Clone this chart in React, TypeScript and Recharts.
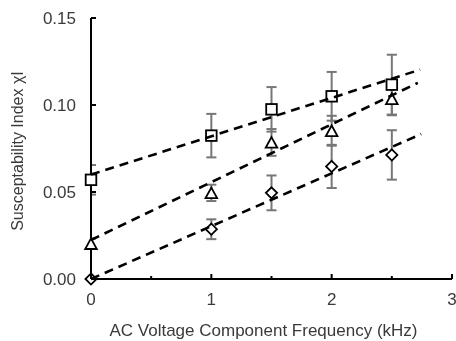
import React from 'react';
import { ComposedChart, Scatter, XAxis, YAxis, Label, ReferenceLine } from 'recharts';

const frequencies = [0, 1, 1.5, 2, 2.5];
const squareValues = [0.057, 0.0824, 0.0975, 0.105, 0.1117];
const squareErrors = [0.0085, 0.0125, 0.0128, 0.014, 0.0172];
const triangleValues = [0.0203, 0.0495, 0.0785, 0.0852, 0.1036];
const triangleErrors = [0.003, 0.0047, 0.0077, 0.0086, 0.0095];
const diamondValues = [0, 0.0286, 0.0495, 0.0647, 0.0713];
const diamondErrors = [0, 0.0057, 0.01, 0.0124, 0.0142];

const trendSquareX = [0, 2.735];
const trendSquareY = [0.06, 0.1203];
const trendTriangleX = [0, 2.716];
const trendTriangleY = [0.0224, 0.1127];
const trendDiamondX = [0, 2.744];
const trendDiamondY = [0, 0.0833];

const xTicks = [0, 0.5, 1, 1.5, 2, 2.5, 3];
const yTicks = [0, 0.05, 0.1, 0.15];
const xDomain = [0, 3];
const yDomain = [0, 0.15];

const xLabel = 'AC Voltage Component Frequency (kHz)';
const yLabel = 'Susceptability Index χI';

const FONT = '"Liberation Sans", Arial, sans-serif';
const TEXT_COLOR = '#3a3a3a';
const CAP_HALF_WIDTH = 0.042; // error-bar cap half width, in x-axis units

const build = (xs: number[], ys: number[], es?: number[]) =>
  xs.map((x, i) => ({ x, y: ys[i], err: es ? es[i] : 0 }));

const squareData = build(frequencies, squareValues, squareErrors);
const triangleData = build(frequencies, triangleValues, triangleErrors);
const diamondData = build(frequencies, diamondValues, diamondErrors);
const trendSquare = build(trendSquareX, trendSquareY);
const trendTriangle = build(trendTriangleX, trendTriangleY);
const trendDiamond = build(trendDiamondX, trendDiamondY);

type Seg = [{ x: number; y: number }, { x: number; y: number }];
const errorSegments: Seg[] = [squareData, triangleData, diamondData].flatMap((series) =>
  series
    .filter((d) => d.err > 0)
    .flatMap((d) => {
      const lo = d.y - d.err;
      const hi = d.y + d.err;
      return [
        [{ x: d.x, y: lo }, { x: d.x, y: hi }],
        [{ x: d.x - CAP_HALF_WIDTH, y: hi }, { x: d.x + CAP_HALF_WIDTH, y: hi }],
        [{ x: d.x - CAP_HALF_WIDTH, y: lo }, { x: d.x + CAP_HALF_WIDTH, y: lo }],
      ] as Seg[];
    })
);

const Y_MARGIN = 15;
const X_MARGIN = 20;

const YTick = (props: any) => {
  const { x, y, payload } = props;
  const axisX = x + Y_MARGIN;
  return (
    <g>
      <line x1={axisX} x2={axisX + 5} y1={y} y2={y} stroke="#000" strokeWidth={2} />
      <text x={x} y={y} dy="0.36em" textAnchor="end" fontFamily={FONT} fontSize={17} fill={TEXT_COLOR}>
        {payload.value.toFixed(2)}
      </text>
    </g>
  );
};

const XTick = (props: any) => {
  const { x, y, payload } = props;
  const axisY = y - X_MARGIN;
  const major = Math.abs(payload.value - Math.round(payload.value)) < 1e-6;
  return (
    <g>
      <line x1={x} x2={x} y1={axisY} y2={axisY - (major ? 5 : 3)} stroke="#000" strokeWidth={2} />
      {major && (
        <text x={x} y={y} dy="0.36em" textAnchor="middle" fontFamily={FONT} fontSize={17} fill={TEXT_COLOR}>
          {String(Math.round(payload.value))}
        </text>
      )}
    </g>
  );
};

const Square = (props: any) => {
  const { cx, cy } = props;
  if (cx == null || cy == null) return null;
  const h = 5.3;
  return <rect x={cx - h} y={cy - h} width={2 * h} height={2 * h} fill="#fff" stroke="#000" strokeWidth={1.8} />;
};

const Triangle = (props: any) => {
  const { cx, cy } = props;
  if (cx == null || cy == null) return null;
  const w = 5.8;
  const h = 5.3;
  return (
    <polygon
      points={`${cx},${cy - h} ${cx + w},${cy + h} ${cx - w},${cy + h}`}
      fill="#fff"
      stroke="#000"
      strokeWidth={1.8}
    />
  );
};

const Diamond = (props: any) => {
  const { cx, cy } = props;
  if (cx == null || cy == null) return null;
  const r = 5.6;
  return (
    <polygon
      points={`${cx},${cy - r} ${cx + r},${cy} ${cx},${cy + r} ${cx - r},${cy}`}
      fill="#fff"
      stroke="#000"
      strokeWidth={1.8}
    />
  );
};

const trendStyle = { stroke: '#000', strokeWidth: 2.6, strokeDasharray: '9 6' };

export default function App() {
  return (
    <div style={{ position: 'fixed', left: 8, top: 8, width: 448, height: 333 }}>
      <ComposedChart width={448} height={333} margin={{ top: 10, right: 4, bottom: 0, left: 0 }}>
        <XAxis
          type="number"
          dataKey="x"
          domain={xDomain}
          ticks={xTicks}
          interval={0}
          tickLine={false}
          tickSize={0}
          tickMargin={X_MARGIN}
          tick={<XTick />}
          axisLine={{ stroke: '#000', strokeWidth: 2 }}
          height={62}
        >
          <Label
            content={() => (
              <text x={255.5} y={322} dy="0.36em" textAnchor="middle" fontFamily={FONT} fontSize={17} fill={TEXT_COLOR}>
                {xLabel}
              </text>
            )}
          />
        </XAxis>
        <YAxis
          type="number"
          domain={yDomain}
          ticks={yTicks}
          interval={0}
          tickLine={false}
          tickSize={0}
          tickMargin={Y_MARGIN}
          tick={<YTick />}
          axisLine={false}
          width={83}
        >
          <Label
            content={() => (
              <text
                x={0}
                y={0}
                transform="translate(9,143) rotate(-90)"
                dy="0.36em"
                textAnchor="middle"
                fontFamily={FONT}
                fontSize={16}
                fill={TEXT_COLOR}
              >
                {yLabel}
              </text>
            )}
          />
        </YAxis>
        {errorSegments.map((seg, i) => (
          <ReferenceLine
            key={`err-${i}`}
            segment={seg}
            stroke="#777777"
            strokeWidth={2}
            ifOverflow="hidden"
            zIndex={600}
          />
        ))}
        <ReferenceLine
          segment={[{ x: xDomain[0], y: yDomain[0] }, { x: xDomain[0], y: yDomain[1] }]}
          stroke="#000"
          strokeWidth={2}
          ifOverflow="visible"
          zIndex={700}
        />
        <ReferenceLine
          segment={[{ x: xDomain[0], y: yDomain[0] }, { x: xDomain[1], y: yDomain[0] }]}
          stroke="#000"
          strokeWidth={2}
          ifOverflow="visible"
          zIndex={700}
        />
        <Scatter data={squareData} dataKey="y" shape={<Square />} isAnimationActive={false} zIndex={750} />
        <Scatter data={triangleData} dataKey="y" shape={<Triangle />} isAnimationActive={false} zIndex={750} />
        <Scatter data={diamondData} dataKey="y" shape={<Diamond />} isAnimationActive={false} zIndex={750} />
        <ReferenceLine segment={[trendSquare[0], trendSquare[1]]} ifOverflow="visible" {...trendStyle} zIndex={800} />
        <ReferenceLine segment={[trendTriangle[0], trendTriangle[1]]} ifOverflow="visible" {...trendStyle} zIndex={800} />
        <ReferenceLine segment={[trendDiamond[0], trendDiamond[1]]} ifOverflow="visible" {...trendStyle} zIndex={800} />
      </ComposedChart>
    </div>
  );
}
